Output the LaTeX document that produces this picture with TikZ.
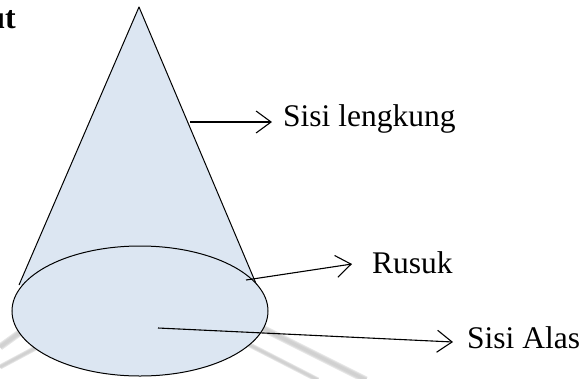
\documentclass[tikz,border=0pt]{standalone}
\usepackage{fontspec}
\setmainfont{Liberation Serif}
\usetikzlibrary{arrows.meta}
\definecolor{conefill}{RGB}{220,230,242}
\definecolor{markgray}{RGB}{200,200,200}
\tikzset{
  outline/.style={draw=black, line width=1pt},
  pointer/.style={draw=black, line width=1.1pt, -{Straight Barb[length=15pt,width=22pt,line width=1.1pt]}},
  label/.style={anchor=base west, inner sep=0pt, font=\fontsize{31.5}{36}\selectfont},
  band/.style={draw=markgray, line cap=butt, draw opacity=0.45}
}
\begin{document}
\begin{tikzpicture}[x=1pt,y=-1pt]
  \useasboundingbox (0,0) rectangle (586,378);
  % faint background bands, soft edges from stacked strokes
  \foreach \w in {7,5,3} {
    \draw[band, line width=\w pt] (0,347) -- (40,318);
    \draw[band, line width=\w pt] (250,322) -- (366,380);
  }
  \foreach \w in {5,3.5,2} {
    \draw[band, line width=\w pt] (0,367) -- (45,343);
    \draw[band, line width=\w pt] (240,340) -- (318,380);
  }
  % cone
  \coordinate (apex) at (139,7);
  \coordinate (lside) at (19,285);
  \coordinate (rside) at (260,293);
  \fill[conefill] (apex) -- (lside) -- (rside) -- cycle;
  \draw[outline, line join=round] (lside) -- (apex) -- (rside);
  \draw[outline, fill=conefill] (140,311) ellipse [x radius=128, y radius=65];
  % label anchors on the solid
  \coordinate (curve) at (190,122);
  \coordinate (edge) at (246,280);
  \coordinate (base) at (158,328);
  % texts
  \node[anchor=base east, inner sep=0pt, font=\fontsize{32}{36}\selectfont\bfseries] (cut) at (16,28) {ut};
  \node[label] (tcurve) at (283,126) {Sisi lengkung};
  \node[label] (tedge) at (372,273) {Rusuk};
  \node[label] (tbase) at (467,348) {Sisi Alas};
  \coordinate (hcurve) at (272,122);
  \coordinate (hedge) at (352,264);
  \coordinate (hbase) at (453,342);
  \draw[pointer] (curve) -- (hcurve);
  \draw[pointer] (edge) -- (hedge);
  \draw[pointer] (base) -- (hbase);
\end{tikzpicture}
\end{document}
